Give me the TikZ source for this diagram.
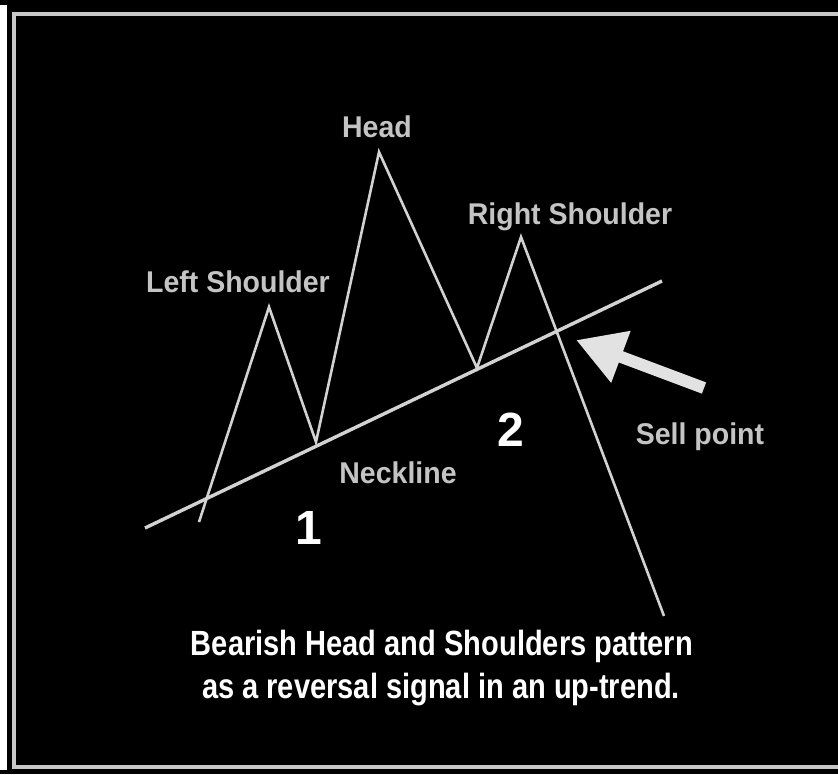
\documentclass[tikz,border=0pt]{standalone}
\usepackage{fontspec}
\setmainfont{Liberation Sans}
\newfontfamily\labfont[FakeStretch=0.95]{Liberation Sans}
\newfontfamily\numfont{Liberation Sans}
\newfontfamily\capfont[FakeStretch=0.83]{Liberation Sans}
\usetikzlibrary{arrows.meta}
\definecolor{framegray}{HTML}{C8C8C8}
\definecolor{linegray}{HTML}{D2D2D2}
\definecolor{labgray}{HTML}{C4C4C4}
\definecolor{arrowgray}{HTML}{E2E2E2}
\tikzset{
  lbl/.style={text=labgray, font=\labfont\bfseries\fontsize{30}{32}\selectfont, inner sep=0pt, anchor=base},
  num/.style={text=white, font=\numfont\bfseries\fontsize{48}{50}\selectfont, inner sep=0pt, anchor=base},
  captext/.style={text=white, font=\capfont\bfseries\fontsize{35}{37}\selectfont, inner sep=0pt, anchor=base},
  price/.style={draw=linegray, line width=2.6pt, line join=miter},
  neck/.style={draw=linegray, line width=3.4pt},
  sellarrow/.style={draw=arrowgray, line width=12pt, -{Triangle[length=48pt,width=52pt]}}
}
\begin{document}
\begin{tikzpicture}[x=1pt,y=-1pt]
\useasboundingbox (0,0) rectangle (838,774);
\fill[black] (0,0) rectangle (838,774);
\fill[white] (0,5) rectangle (7,770);
\draw[framegray, line width=4pt] (850,13.5) -- (13.5,13.5) -- (13.5,767) -- (850,767);

% neckline
\coordinate (n1) at (145,528);
\coordinate (n2) at (662,281);
\draw[neck] (n1) -- (n2);

% price path
\coordinate (p0) at (199,522);
\coordinate (ls) at (269,307);
\coordinate (t1) at (316,442);
\coordinate (hd) at (379,152);
\coordinate (t2) at (477,368);
\coordinate (rs) at (521,237);
\coordinate (pe) at (664,616);
\draw[price] (p0) -- (ls) -- (t1) -- (hd) -- (t2) -- (rs) -- (pe);

% sell arrow
\coordinate (at) at (704,388);
\coordinate (ah) at (576,340);
\draw[sellarrow] (at) -- (ah);

% labels
\node[lbl] (head) at (377,137) {Head};
\node[lbl] (lsl) at (238,292) {Left Shoulder};
\node[lbl] (rsl) at (570,224) {Right Shoulder};
\node[lbl] (nl) at (398,483) {Neckline};
\node[lbl] (sp) at (700,444) {Sell point};
\node[num] (one) at (309,544) {1};
\node[num] (two) at (511,446) {2};
\node[captext] (c1) at (442,655) {Bearish Head and Shoulders pattern};
\node[captext] (c2) at (441,698) {as a reversal signal in an up-trend.};
\end{tikzpicture}
\end{document}
